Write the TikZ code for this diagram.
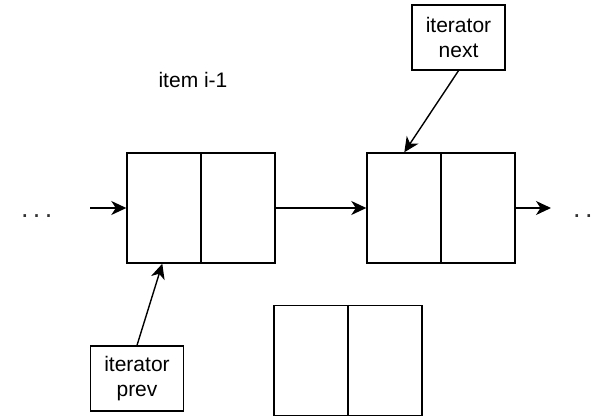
\documentclass[tikz,border=0pt]{standalone}
\usepackage{fontspec}
\setmainfont{Liberation Sans}
\usetikzlibrary{arrows.meta}
\begin{document}
\begin{tikzpicture}[x=1pt,y=-1pt,
  every node/.style={font=\fontsize{21}{25}\selectfont, inner sep=0pt},
  cell/.style={draw, line width=1.4pt, minimum width=148pt, minimum height=110pt},
  lbl/.style={draw, line width=1.4pt, minimum width=93pt, minimum height=65pt, align=center},
  dots/.style={font=\fontsize{27}{30}\selectfont, text=black!80},
  conn/.style={line width=1.4pt, -{Stealth[length=15pt,width=14pt,inset=4.5pt]}}]
\useasboundingbox[fill=white] (0,0) rectangle (595,418);
% boxes
\node[cell] (b1) at (201,208) {};
\node[cell] (b2) at (441,208) {};
\node[cell] (b3) at (348,360.5) {};
\foreach \b in {b1,b2,b3} \draw[line width=1.4pt] (\b.north) -- (\b.south);
% labels
\node[lbl] (nx) at (458.5,37.5) {iterator\\next};
\node[lbl] (pv) at (137,378.5) {iterator\\prev};
\node[anchor=base] (it) at (193,87) {item i-1};
\node[dots, anchor=base west] (ld) at (21,217) {.\hspace{4.3pt}.\hspace{4.3pt}.};
\node[dots, anchor=base west] (rd) at (573,217) {.\hspace{4.3pt}.\hspace{4.3pt}.};
% connectors
\coordinate (in) at (90,208);
\coordinate (out) at (551,208);
\draw[conn] (in) -- (b1.west);
\draw[conn] (b1.east) -- (b2.west);
\draw[conn] (b2.east) -- (out);
\draw[conn] (nx.south) -- ([xshift=38pt]b2.north west);
\draw[conn] (pv.north) -- ([xshift=36pt]b1.south west);
\end{tikzpicture}
\end{document}
